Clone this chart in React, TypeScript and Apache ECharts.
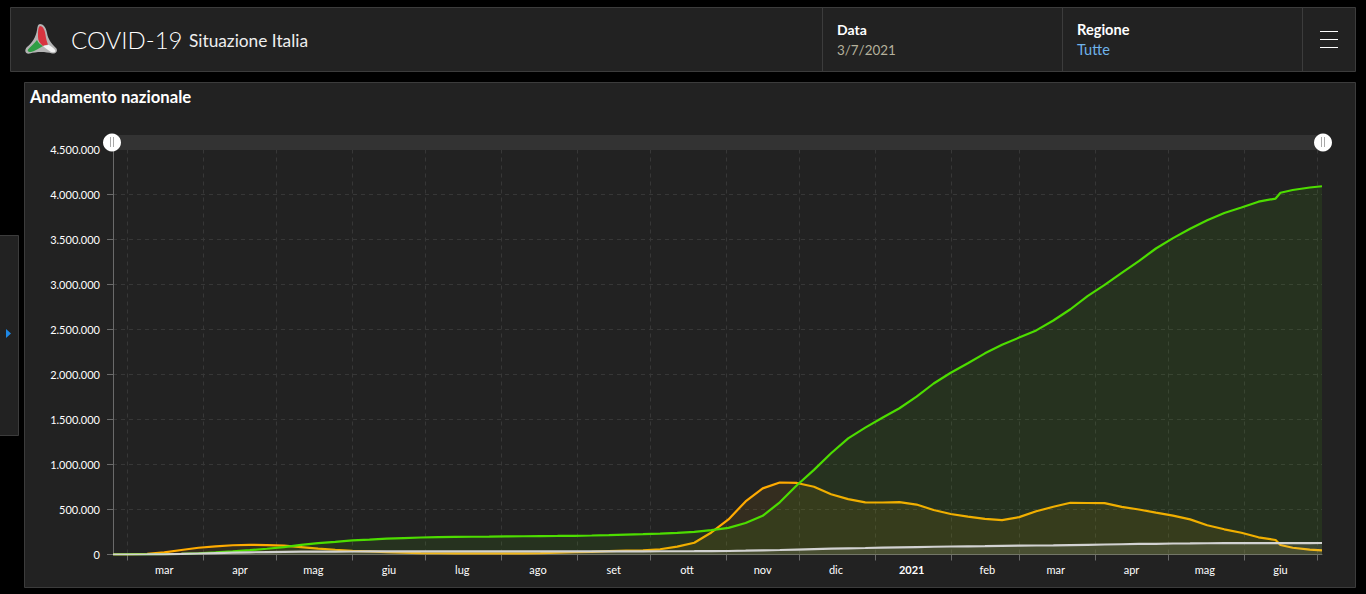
import React, { useEffect, useRef } from "react";
import * as echarts from "echarts";

const dates = [
  "2020-02-24","2020-03-02","2020-03-09","2020-03-16","2020-03-23","2020-03-30","2020-04-06","2020-04-13","2020-04-20","2020-04-27",
  "2020-05-04","2020-05-11","2020-05-18","2020-05-25","2020-06-01","2020-06-08","2020-06-15","2020-06-22","2020-06-29","2020-07-06",
  "2020-07-13","2020-07-20","2020-07-27","2020-08-03","2020-08-10","2020-08-17","2020-08-24","2020-08-31","2020-09-07","2020-09-14",
  "2020-09-21","2020-09-28","2020-10-05","2020-10-12","2020-10-19","2020-10-26","2020-11-02","2020-11-09","2020-11-16","2020-11-23",
  "2020-11-30","2020-12-07","2020-12-14","2020-12-21","2020-12-28","2021-01-04","2021-01-11","2021-01-18","2021-01-25","2021-02-01",
  "2021-02-08","2021-02-15","2021-02-22","2021-03-01","2021-03-08","2021-03-15","2021-03-22","2021-03-29","2021-04-05","2021-04-12",
  "2021-04-19","2021-04-26","2021-05-03","2021-05-10","2021-05-17","2021-05-24","2021-05-31","2021-06-07","2021-06-14","2021-06-16",
  "2021-06-21","2021-06-28","2021-07-03",
];

const guariti = [
  0,1000,1000,3000,8000,14000,24000,35000,48000,64000,
  82000,106000,127000,141000,158000,166000,177000,183000,189000,192000,
  195000,197000,198000,201000,203000,205000,206000,208000,211000,215000,
  221000,226000,232000,240000,251000,270000,296000,350000,430000,580000,
  770000,940000,1125000,1290000,1410000,1520000,1625000,1755000,1900000,2020000,
  2125000,2235000,2330000,2410000,2490000,2600000,2725000,2870000,2995000,3130000,
  3260000,3400000,3515000,3620000,3715000,3795000,3855000,3920000,3955000,4020000,
  4050000,4078000,4092000,
];

const positivi = [
  200,2000,8000,23000,50000,75000,91000,103000,108000,105000,
  99000,83000,66000,53000,41000,35000,26000,20000,16000,14000,
  13000,12500,12500,12500,13000,16000,20000,26000,30000,37000,
  42000,47000,58000,88000,130000,245000,390000,590000,735000,800000,
  795000,753000,670000,615000,580000,578000,582000,555000,495000,450000,
  420000,395000,382000,415000,480000,530000,575000,572000,570000,530000,
  500000,465000,432000,390000,325000,280000,242000,191000,161000,105000,
  75000,55000,46000,
];

const deceduti = [
  0,100,500,2000,6000,11000,16000,20000,24000,27000,
  29000,31000,32000,33000,33500,34000,34400,34700,34800,35000,
  35000,35100,35100,35200,35200,35400,35400,35500,35500,35600,
  35700,35800,36000,36200,36600,37500,39000,42000,46000,50000,
  55000,60000,65000,69000,72000,76000,80000,83000,86000,89000,
  91000,93000,96000,98000,100000,102000,105000,108000,111000,114000,
  117000,119000,122000,123000,125000,125500,126000,126500,127000,127000,
  127200,127500,127700,
];

const monthStarts = [
  "2020-03-01","2020-04-01","2020-05-01","2020-06-01","2020-07-01","2020-08-01","2020-09-01","2020-10-01",
  "2020-11-01","2020-12-01","2021-01-01","2021-02-01","2021-03-01","2021-04-01","2021-05-01","2021-06-01","2021-07-01",
];
const monthLabelDates = [
  "2020-03-16","2020-04-16","2020-05-16","2020-06-16","2020-07-16","2020-08-16","2020-09-16","2020-10-16",
  "2020-11-16","2020-12-16","2021-01-16","2021-02-16","2021-03-16","2021-04-16","2021-05-16","2021-06-16",
];
const monthLabels = ["mar","apr","mag","giu","lug","ago","set","ott","nov","dic","2021","feb","mar","apr","mag","giu"];

const FONT = "Lato, 'Open Sans', sans-serif";
const PANEL = "#222222";
const EDGE = "#3c3c3c";
const GRID = "#373737";

const ts = (s: string) => {
  const [y, m, d] = s.split("-").map(Number);
  return new Date(y, m - 1, d, 12).getTime();
};

const pair = (vals: number[]) => vals.map((v, i) => [ts(dates[i]), v]);

const labelText = (value: number) => {
  const i = monthLabelDates.findIndex((d) => ts(d) === value);
  const t = i >= 0 ? monthLabels[i] : "";
  return t === "2021" ? "{b|2021}" : t;
};

function box(x: number, y: number, w: number, h: number) {
  return {
    type: "rect",
    z: -5,
    shape: { x: x + 0.5, y: y + 0.5, width: w, height: h },
    style: { fill: PANEL, stroke: EDGE, lineWidth: 1 },
    silent: true,
  };
}
function vline(x: number, y1: number, y2: number, stroke: string) {
  return {
    type: "line",
    z: 20,
    shape: { x1: x + 0.5, y1, x2: x + 0.5, y2 },
    style: { stroke, lineWidth: 1 },
    silent: true,
  };
}
function hline(x1: number, x2: number, y: number) {
  return {
    type: "line",
    z: 20,
    shape: { x1, y1: y + 0.5, x2, y2: y + 0.5 },
    style: { stroke: "#ffffff", lineWidth: 1 },
    silent: true,
  };
}
function label(text: string, x: number, y: number, size: number, fill: string, weight: any = 400) {
  return {
    type: "text",
    z: 20,
    x,
    y,
    silent: true,
    style: { text, fill, fontSize: size, fontWeight: weight, fontFamily: FONT, verticalAlign: "middle" },
  };
}

echarts.graphic.registerShape("logoRim", echarts.graphic.extendPath("M30 9C33 9 36 12 37 18C38 24 41 28 46 33C48 35 47 39 42 38.5C36 36.5 26 36.5 20 38.5C15 39.5 14 35 17 32C22 28 26 22 27 15C27.5 11 28 9 30 9Z", {}) as any);
echarts.graphic.registerShape("logoGreen", echarts.graphic.extendPath("M27 25C24 29 20 32 18 34.5C17 36.5 19 37 21 37C25 36 29 33 33 31C31 30 28 28 27 25Z", {}) as any);
echarts.graphic.registerShape("logoRed", echarts.graphic.extendPath("M30 11C33 11 35 15 35.5 20C36 24 37 27 38 29.5C36 30 34.5 30.5 33 31C30 28 28 26 28 22C28 17 28 12 30 11Z", {}) as any);
echarts.graphic.registerShape("logoWhite", echarts.graphic.extendPath("M33 31C36 30 38 30 39 30C42 32 45 34 45.5 36C45 37.5 43 37.5 41 37C38 35 35 33 33 31Z", {}) as any);

function logo(type: string, fill: string) {
  return { type, x: 10, y: 15, z: 20, silent: true, style: { fill } };
}

export default function App() {
  const ref = useRef<HTMLDivElement>(null);
  useEffect(() => {
    const chart = echarts.init(ref.current!, undefined, { renderer: "svg" });
    const series = (name: string, vals: number[], color: string, fill: string, z: number) => ({
      name,
      type: "line",
      data: pair(vals),
      showSymbol: false,
      z,
      lineStyle: { color, width: 2.2 },
      itemStyle: { color },
      areaStyle: { color: fill, origin: "start" },
    });
    chart.setOption({
      animation: false,
      backgroundColor: "#000000",
      textStyle: { fontFamily: FONT },
      grid: { left: 113, right: 44, top: 149.5, height: 405, containLabel: false },
      xAxis: {
        type: "value",
        min: ts(dates[0]),
        max: ts(dates[dates.length - 1]),
        axisLine: { show: true, lineStyle: { color: "#6a6a6a", width: 1 } },
        axisTick: { show: true, length: 6, lineStyle: { color: "#6a6a6a" }, customValues: monthStarts.map(ts) },
        minorTick: { show: false },
        splitLine: { show: true, lineStyle: { color: GRID, type: [4, 4], width: 1 } },
        axisLabel: {
          color: "#ffffff",
          fontSize: 11,
          fontFamily: FONT,
          margin: 9,
          hideOverlap: false,
          customValues: monthLabelDates.map(ts),
          formatter: labelText,
          rich: { b: { fontWeight: 700, fontSize: 11, color: "#ffffff", fontFamily: FONT } },
        },
      },
      yAxis: {
        type: "value",
        min: 0,
        max: 4500000,
        interval: 500000,
        axisLine: { show: true, lineStyle: { color: "#6a6a6a", width: 1 } },
        axisTick: { show: true, length: 6, lineStyle: { color: "#6a6a6a" } },
        splitLine: { show: true, lineStyle: { color: GRID, type: [4, 4], width: 1 } },
        axisLabel: {
          color: "#ffffff",
          fontSize: 11,
          fontFamily: FONT,
          margin: 13,
          formatter: (v: number) => String(Math.round(v)).replace(/\B(?=(\d{3})+(?!\d))/g, "."),
        },
      },
      dataZoom: [
        {
          type: "slider",
          xAxisIndex: 0,
          filterMode: "none",
          start: 0,
          end: 100,
          left: 110,
          right: 43,
          top: 135,
          height: 15,
          showDetail: false,
          showDataShadow: false,
          brushSelect: false,
          moveHandleSize: 0,
          backgroundColor: "#2f2f2f",
          fillerColor: "rgba(255,255,255,0.02)",
          borderColor: "transparent",
          handleIcon: "circle",
          handleSize: "120%",
          handleStyle: { color: "#ffffff", borderWidth: 0 },
        },
      ],
      series: [
        series("Attualmente positivi", positivi, "#ffab00", "rgba(255,165,0,0.12)", 2),
        series("Dimessi guariti", guariti, "#4ddd00", "rgba(77,221,0,0.125)", 3),
        series("Deceduti", deceduti, "#d2d2d2", "rgba(255,255,255,0.14)", 4),
      ],
      graphic: {
        elements: [
          box(10, 7, 1345, 64),
          box(24, 82, 1331, 505),
          box(-2, 235, 20, 200),
          vline(822, 8, 71, EDGE),
          vline(1062, 8, 71, EDGE),
          vline(1302, 8, 71, EDGE),
          logo("logoRim", "#b4b4b4"),
          logo("logoGreen", "#2f9e44"),
          logo("logoRed", "#d8343f"),
          logo("logoWhite", "#f2f2f2"),
          label("COVID-19", 71, 39, 24, "#ffffff", 300),
          label("Situazione Italia", 189, 40, 17.3, "#eeeeee"),
          label("Data", 837, 29, 14, "#ffffff", 700),
          label("3/7/2021", 837, 49.5, 13.4, "#b5b19c"),
          label("Regione", 1077, 29, 14.6, "#ffffff", 700),
          label("Tutte", 1077, 49.5, 14.6, "#6fb3ea"),
          hline(1320, 1338, 31),
          hline(1320, 1338, 39),
          hline(1320, 1338, 47),
          label("Andamento nazionale", 30, 97, 16.7, "#ffffff", 700),
          {
            type: "polygon",
            z: 20,
            silent: true,
            shape: { points: [[6, 329], [11, 333.5], [6, 338]] },
            style: { fill: "#1e88e5" },
          },
          vline(110, 137, 147, "#a8a8a8"),
          vline(113, 137, 147, "#a8a8a8"),
          vline(1321, 137, 147, "#a8a8a8"),
          vline(1324, 137, 147, "#a8a8a8"),
        ],
      },
    });
    return () => chart.dispose();
  }, []);
  return (
    <div
      ref={ref}
      style={{ position: "fixed", left: 0, top: 0, width: 1366, height: 594, background: "#000" }}
    />
  );
}
